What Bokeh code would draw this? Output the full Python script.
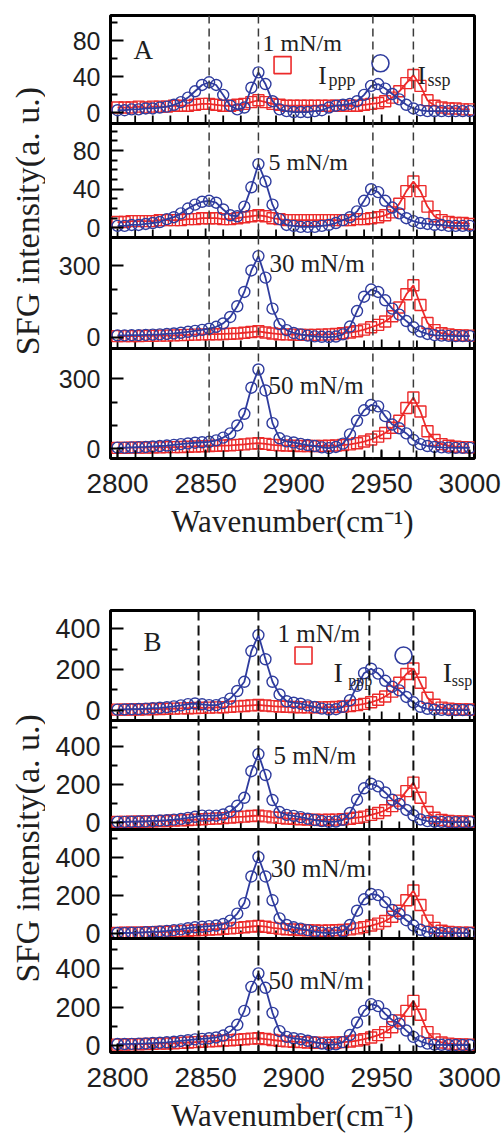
from math import pi
from bokeh.plotting import figure
from bokeh.layouts import column, row
from bokeh.models import Range1d, Span, Label, SingleIntervalTicker, FixedTicker
from bokeh.embed import file_html
from bokeh.resources import INLINE

# ---------------- data ----------------
wavenumber = [2800, 2804, 2808, 2812, 2816, 2820, 2824, 2828, 2832, 2836,
              2840, 2844, 2848, 2852, 2856, 2860, 2864, 2868, 2872, 2876,
              2880, 2884, 2888, 2892, 2896, 2900, 2904, 2908, 2912, 2916,
              2920, 2924, 2928, 2932, 2936, 2940, 2944, 2948, 2952, 2956,
              2960, 2964, 2968, 2972, 2976, 2980, 2984, 2988, 2992, 2996, 3000]

# Panel A
A1_ssp = [3, 3, 4, 4, 5, 5, 6, 7, 9, 12, 17, 24, 31, 34, 31, 20, 8, 4, 6, 28,
          45, 32, 13, 4, 2, 1, 1, 1, 2, 3, 6, 8, 9, 10, 13, 20, 30, 32, 27, 21,
          15, 9, 5, 3, 2, 2, 2, 2, 2, 2, 2]
A1_ppp = [6, 6, 6, 7, 6, 7, 7, 7, 8, 8, 8, 9, 10, 10, 9, 8, 8, 9, 10, 12,
          14, 12, 10, 9, 8, 8, 8, 8, 8, 8, 8, 8, 8, 8, 8, 9, 10, 11, 13, 17,
          24, 33, 42, 30, 14, 8, 6, 5, 5, 4, 4]
A2_ssp = [2, 2, 3, 3, 4, 5, 6, 9, 11, 15, 20, 24, 27, 28, 26, 19, 13, 12, 22, 42,
          66, 48, 24, 9, 3, 2, 1, 1, 1, 2, 3, 5, 8, 11, 17, 28, 40, 37, 28, 21,
          15, 10, 7, 5, 4, 3, 3, 2, 2, 2, 2]
A2_ppp = [6, 6, 7, 7, 7, 7, 8, 8, 8, 8, 9, 9, 10, 10, 10, 9, 9, 10, 11, 12,
          13, 12, 10, 9, 8, 8, 8, 8, 8, 8, 8, 8, 8, 8, 9, 9, 10, 11, 13, 16,
          25, 38, 48, 38, 22, 12, 8, 6, 5, 5, 4]
A3_ssp = [8, 8, 9, 9, 10, 11, 12, 14, 16, 19, 23, 27, 31, 36, 44, 58, 85, 130, 190, 280,
          340, 250, 120, 55, 30, 18, 12, 7, 4, 2, 1, 3, 12, 45, 110, 170, 200, 190, 155, 120,
          95, 68, 42, 24, 14, 9, 7, 6, 5, 5, 5]
A3_ppp = [5, 5, 5, 5, 6, 6, 7, 7, 8, 9, 10, 11, 12, 13, 13, 14, 15, 16, 19, 22,
          25, 20, 16, 13, 12, 11, 10, 10, 10, 11, 12, 14, 17, 20, 25, 32, 42, 52, 66, 88,
          125, 180, 218, 135, 60, 30, 17, 12, 9, 8, 7]
A4_ssp = [5, 5, 6, 7, 8, 10, 12, 14, 17, 20, 23, 26, 28, 30, 36, 48, 66, 100, 150, 262,
          340, 250, 110, 45, 32, 27, 21, 16, 12, 6, 3, 8, 22, 62, 120, 165, 188, 182, 140, 104,
          88, 66, 38, 20, 12, 8, 6, 5, 4, 4, 4]
A4_ppp = [4, 4, 5, 5, 5, 6, 6, 7, 7, 8, 9, 10, 11, 12, 13, 14, 15, 17, 19, 22,
          24, 21, 17, 15, 14, 13, 12, 12, 12, 12, 13, 14, 16, 19, 24, 31, 40, 52, 68, 90,
          120, 175, 220, 160, 75, 38, 20, 13, 9, 7, 6]

# Panel B
B1_ssp = [4, 5, 6, 7, 9, 11, 13, 16, 20, 25, 31, 34, 30, 26, 26, 36, 58, 95, 140, 290,
          368, 250, 140, 78, 45, 38, 33, 25, 17, 9, 4, 6, 18, 50, 120, 182, 204, 180, 145, 116,
          98, 66, 40, 18, 8, 4, 3, 2, 2, 2, 2]
B1_ppp = [4, 4, 5, 5, 6, 7, 7, 8, 9, 10, 11, 12, 13, 14, 15, 16, 18, 20, 22, 25,
          27, 24, 21, 19, 18, 17, 16, 15, 15, 15, 16, 17, 19, 22, 26, 32, 40, 52, 68, 92,
          135, 178, 205, 135, 62, 28, 14, 9, 6, 5, 5]
B2_ssp = [3, 3, 4, 5, 6, 8, 10, 12, 15, 19, 24, 30, 36, 36, 36, 42, 58, 88, 130, 270,
          360, 250, 118, 55, 40, 35, 28, 20, 13, 7, 3, 5, 14, 50, 120, 180, 204, 190, 158, 120,
          98, 66, 38, 16, 7, 4, 3, 2, 2, 2, 2]
B2_ppp = [3, 3, 4, 4, 5, 6, 7, 8, 10, 11, 13, 15, 17, 19, 21, 23, 26, 29, 31, 34,
          36, 32, 27, 24, 21, 19, 17, 15, 14, 13, 14, 15, 17, 20, 25, 31, 40, 50, 64, 86,
          115, 165, 210, 130, 55, 25, 13, 8, 6, 5, 4]
B3_ssp = [3, 3, 4, 5, 7, 9, 11, 14, 18, 22, 28, 33, 36, 39, 42, 50, 68, 105, 160, 300,
          402, 300, 175, 80, 45, 33, 26, 18, 10, 5, 2, 4, 12, 45, 120, 180, 208, 202, 165, 124,
          104, 70, 42, 20, 9, 5, 3, 2, 2, 2, 2]
B3_ppp = [3, 4, 4, 5, 6, 7, 8, 9, 11, 13, 15, 17, 19, 21, 23, 25, 27, 30, 33, 37,
          40, 36, 30, 26, 23, 21, 19, 17, 16, 15, 16, 17, 19, 22, 27, 34, 42, 52, 66, 88,
          120, 175, 226, 150, 68, 30, 15, 9, 6, 5, 4]
B4_ssp = [8, 8, 9, 10, 11, 13, 15, 17, 20, 24, 28, 32, 35, 38, 42, 52, 72, 108, 180, 305,
          375, 300, 170, 75, 45, 38, 33, 25, 18, 10, 4, 6, 18, 55, 120, 180, 215, 205, 165, 132,
          114, 78, 45, 22, 10, 5, 4, 3, 3, 3, 3]
B4_ppp = [5, 5, 6, 7, 8, 9, 10, 11, 12, 14, 16, 18, 20, 22, 24, 26, 28, 30, 33, 36,
          38, 34, 29, 25, 22, 20, 18, 16, 15, 14, 15, 16, 18, 21, 26, 33, 42, 54, 70, 95,
          130, 180, 232, 160, 70, 32, 16, 10, 7, 6, 5]

pressures = ["1 mN/m", "5 mN/m", "30 mN/m", "50 mN/m"]
peaks_A = [2852, 2880, 2945, 2968]
peaks_B = [2846, 2880, 2943, 2968]
x_major_step = 50
x_minor_ticks = [2800, 2810, 2820, 2830, 2840, 2850, 2860, 2870, 2880, 2890, 2900,
                 2910, 2920, 2930, 2940, 2950, 2960, 2970, 2980, 2990, 3000]
y_label = "SFG intensity(a. u.)"
x_label = "Wavenumber(cm\u207b\u00b9)"

RED = "#ec2a2a"
BLUE = "#2f3c9e"
TXT = "#1e1e1e"
SERIF = "Liberation Serif"
SANS = "Liberation Sans"

X_RANGE = (2796.0, 3002.7)
COL_W = 456


def build_panel(bands, H, top, bottom, dashes, dash_style, dash_color, dash_w, ytick_size):
    """One figure per panel; each stacked sub-plot gets its own y-range (band)."""
    extra = {}
    majors, minors, overrides = [], [], {}
    for b in bands:
        s = (b["hi"] - b["lo"]) / b["h"]
        start = b["lo"] - b["b0"] * s
        extra[b["name"]] = Range1d(start, start + H * s)
        for v in b["majors"]:
            c = round(b["b0"] + (v - b["lo"]) / s, 3)
            majors.append(c)
            overrides[c] = str(v)
        for v in b["minors"]:
            c = round(b["b0"] + (v - b["lo"]) / s, 3)
            if b["b0"] < c < b["b0"] + b["h"]:
                minors.append(c)

    p = figure(width=COL_W, height=top + H + bottom, output_backend="svg",
               toolbar_location=None, x_range=Range1d(*X_RANGE), y_range=Range1d(0, H),
               min_border_left=65, min_border_right=27, min_border_top=top,
               min_border_bottom=bottom)
    p.extra_y_ranges = extra
    p.xgrid.visible = False
    p.ygrid.visible = False
    p.outline_line_color = "black"
    p.outline_line_width = 3
    p.background_fill_color = "white"
    p.border_fill_color = "white"

    ya = p.yaxis[0]
    ya.ticker = FixedTicker(ticks=majors, minor_ticks=minors)
    ya.major_label_overrides = overrides
    ya.major_tick_in = 13
    ya.major_tick_out = 0
    ya.minor_tick_in = 7
    ya.minor_tick_out = 0
    ya.major_tick_line_width = 2
    ya.minor_tick_line_width = 2
    ya.axis_line_color = None
    ya.major_label_text_font = SANS
    ya.major_label_text_font_size = f"{ytick_size}px"
    ya.major_label_text_color = TXT
    ya.major_label_standoff = 10

    xa = p.xaxis[0]
    xa.ticker = SingleIntervalTicker(interval=x_major_step, num_minor_ticks=5)
    xa.major_tick_in = 9
    xa.major_tick_out = 0
    xa.minor_tick_in = 8
    xa.minor_tick_out = 0
    xa.major_tick_line_width = 1.8
    xa.minor_tick_line_width = 1.8
    xa.axis_line_color = None
    xa.major_label_text_font = SANS
    xa.major_label_text_font_size = "28px"
    xa.major_label_text_color = TXT
    xa.major_label_standoff = 15
    xa.axis_label = x_label
    xa.axis_label_text_font = SERIF
    xa.axis_label_text_font_style = "normal"
    xa.axis_label_text_font_size = "31px"
    xa.axis_label_text_color = TXT
    xa.axis_label_standoff = 8

    # separators between stacked sub-plots, with inward ticks on each separator
    for b in bands:
        if b["b0"] > 0:
            p.add_layout(Span(location=b["b0"], dimension="width", line_color="black",
                              line_width=3))
            tl = [9 if t % x_major_step == 0 else 8 for t in x_minor_ticks]
            p.segment(x0=x_minor_ticks, y0=[b["b0"]] * len(x_minor_ticks),
                      x1=x_minor_ticks, y1=[b["b0"] + l for l in tl],
                      line_color="black", line_width=1.8)

    for d in dashes:
        p.add_layout(Span(location=d, dimension="height", line_color=dash_color,
                          line_dash=dash_style, line_width=dash_w))

    for b in bands:
        rn = b["name"]
        p.line(wavenumber, b["ppp"], line_color=RED, line_width=1.8, y_range_name=rn)
        p.scatter(wavenumber, b["ppp"], marker="square", size=11, fill_color=None,
                  line_color=RED, line_width=1.4, y_range_name=rn)
        p.line(wavenumber, b["ssp"], line_color=BLUE, line_width=1.8, y_range_name=rn)
        p.scatter(wavenumber, b["ssp"], marker="circle", size=11, fill_color=None,
                  line_color=BLUE, line_width=1.4, y_range_name=rn)
        p.add_layout(Label(x=b["note_xy"][0], y=b["note_xy"][1], text=b["note"],
                           y_range_name=rn, text_font=SERIF,
                           text_font_size=f"{b['note_size']}px", text_color=TXT,
                           text_baseline="alphabetic", text_align="left"))
    return p


def add_legend(p, rn, tag, tag_xy, sq_xy, circ_xy, i1, s1, i2, s2, key_size, i_size, s_size):
    p.add_layout(Label(x=tag_xy[0], y=tag_xy[1], text=tag, text_font=SERIF, y_range_name=rn,
                       text_font_size="27px", text_color=TXT, text_baseline="alphabetic"))
    p.scatter([sq_xy[0]], [sq_xy[1]], marker="square", size=key_size, fill_color=None,
              line_color=RED, line_width=1.6, y_range_name=rn)
    p.scatter([circ_xy[0]], [circ_xy[1]], marker="circle", size=key_size, fill_color=None,
              line_color=BLUE, line_width=1.6, y_range_name=rn)
    for (xy, txt, sz) in [(i1, "I", i_size), (s1, "ppp", s_size), (i2, "I", i_size), (s2, "ssp", s_size)]:
        p.add_layout(Label(x=xy[0], y=xy[1], text=txt, text_font=SERIF, y_range_name=rn,
                           text_font_size=f"{sz}px", text_color=TXT,
                           text_baseline="alphabetic", text_align="left"))


# ---------------- panel A ----------------
bands_A = [
    dict(name="A1", b0=335, h=108, lo=-11.7, hi=108, majors=[0, 40, 80], minors=[20, 60, 100],
         ppp=A1_ppp, ssp=A1_ssp, note=pressures[0], note_xy=(2882.3, 77), note_size=24),
    dict(name="A2", b0=221, h=114, lo=-10, hi=108, majors=[0, 40, 80],
         minors=[10, 20, 30, 50, 60, 70, 90, 100],
         ppp=A2_ppp, ssp=A2_ssp, note=pressures[1], note_xy=(2885.7, 68), note_size=24),
    dict(name="A3", b0=110, h=111, lo=-47, hi=418, majors=[0, 300], minors=[100, 200],
         ppp=A3_ppp, ssp=A3_ssp, note=pressures[2], note_xy=(2886.3, 308), note_size=25),
    dict(name="A4", b0=0, h=110, lo=-41.6, hi=430, majors=[0, 300], minors=[100, 200],
         ppp=A4_ppp, ssp=A4_ssp, note=pressures[3], note_xy=(2885.7, 271), note_size=25),
]
pA = build_panel(bands_A, H=443, top=15, bottom=92, dashes=peaks_A, dash_style="8 5",
                 dash_color="#3a3a3a", dash_w=1.5, ytick_size=25)
add_legend(pA, "A1", "A", (2809, 70), (2893.7, 53), (2949.3, 55), (2914, 42), (2919.8, 36),
           (2970.4, 42), (2976, 36), 17, 25, 18)

# ---------------- panel B ----------------
bands_B = [
    dict(name="B1", b0=332, h=110, lo=-49, hi=488, majors=[0, 200, 400], minors=[100, 300, 500],
         ppp=B1_ppp, ssp=B1_ssp, note=pressures[0], note_xy=(2890.9, 376), note_size=25),
    dict(name="B2", b0=223, h=109, lo=-37, hi=537, majors=[0, 200, 400], minors=[100, 300, 500],
         ppp=B2_ppp, ssp=B2_ssp, note=pressures[1], note_xy=(2888.6, 353), note_size=25),
    dict(name="B3", b0=114, h=109, lo=-26, hi=547, majors=[0, 200, 400], minors=[100, 300, 500],
         ppp=B3_ppp, ssp=B3_ssp, note=pressures[2], note_xy=(2887, 342), note_size=25),
    dict(name="B4", b0=0, h=114, lo=-36, hi=556, majors=[0, 200, 400], minors=[100, 300, 500],
         ppp=B4_ppp, ssp=B4_ssp, note=pressures[3], note_xy=(2885.7, 338), note_size=25),
]
pB = build_panel(bands_B, H=442, top=60, bottom=94, dashes=peaks_B, dash_style="10 5",
                 dash_color="#111111", dash_w=2, ytick_size=27)
add_legend(pB, "B1", "B", (2814.8, 332), (2905.6, 268), (2962.4, 268), (2922.7, 185), (2931, 146),
           (2984.6, 185), (2989.8, 146), 17, 28, 16)


def title_fig(h, yfrac):
    t = figure(width=501 - COL_W, height=h, output_backend="svg", toolbar_location=None,
               x_range=Range1d(0, 1), y_range=Range1d(0, 1),
               x_axis_location=None, y_axis_location=None, min_border=0)
    t.xgrid.visible = False
    t.ygrid.visible = False
    t.outline_line_color = None
    t.add_layout(Label(x=0.6, y=yfrac, text=y_label, angle=pi / 2, text_font=SERIF,
                       text_font_size="34px", text_color=TXT, text_align="center",
                       text_baseline="middle"))
    return t


tA = title_fig(pA.height, 0.536)
tB = title_fig(pB.height, 0.462)

layout = column(row(tA, pA, spacing=0), row(tB, pB, spacing=0), spacing=0)

open("out.html", "w").write(file_html(layout, INLINE))
